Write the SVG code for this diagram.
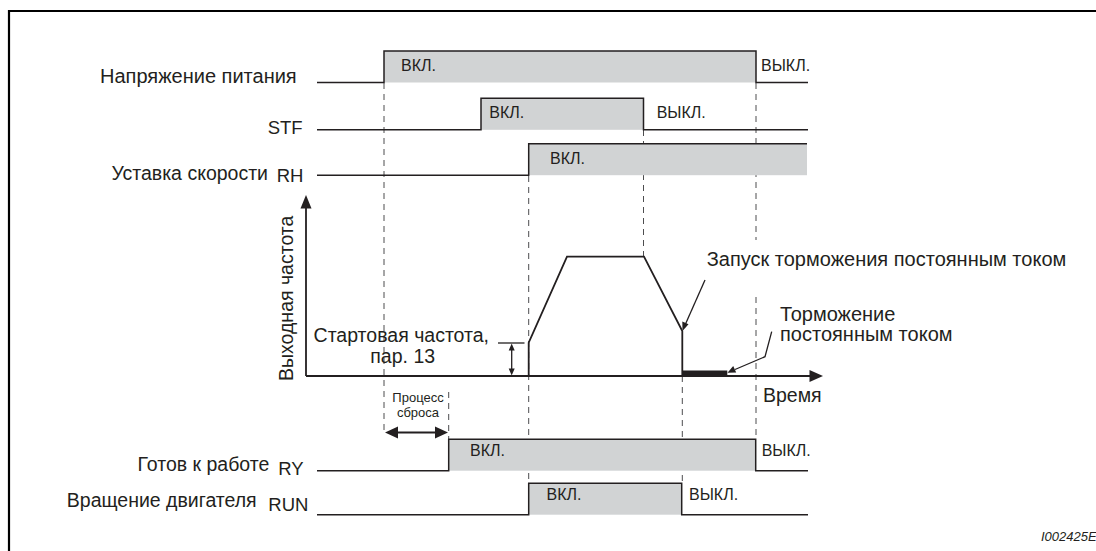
<svg xmlns="http://www.w3.org/2000/svg" width="1096" height="551" viewBox="0 0 1096 551">
<style>
  .t{font-family:"Liberation Sans",Arial,sans-serif;font-size:19.5px;fill:#231f20}
  .tl{font-family:"Liberation Sans",Arial,sans-serif;font-size:20px;fill:#231f20}
  .s{font-family:"Liberation Sans",Arial,sans-serif;font-size:18.5px;fill:#231f20}
  .st{font-family:"Liberation Sans",Arial,sans-serif;font-size:16px;fill:#231f20}
  .sm{font-family:"Liberation Sans",Arial,sans-serif;font-size:13px;fill:#231f20}
  .fill{fill:#d1d3d4;stroke:none}
  .sig{fill:none;stroke:#231f20;stroke-width:1.5}
  .dash{fill:none;stroke:#4d4d4f;stroke-width:1;stroke-dasharray:6 5}
  .ln{fill:none;stroke:#231f20;stroke-width:1.3}
  .ah{fill:#231f20;stroke:none}
</style>
<rect width="1096" height="551" fill="#fff"/>
<path d="M9,551 V11 H1096" fill="none" stroke="#000" stroke-width="2.2"/>

<g id="connectors">
  <line class="dash" x1="384" y1="83" x2="384" y2="432"/>
  <line class="dash" x1="448.7" y1="392" x2="448.7" y2="439"/>
  <line class="dash" x1="528.7" y1="176" x2="528.7" y2="483"/>
  <line class="dash" x1="643.5" y1="130" x2="643.5" y2="257"/>
  <line class="dash" x1="756" y1="83" x2="756" y2="240"/>
  <line class="dash" x1="756" y1="297" x2="756" y2="439"/>
  <line class="dash" x1="682.3" y1="376" x2="682.3" y2="483"/>
  <line class="ln" x1="705" y1="280" x2="685.5" y2="324"/>
  <polygon class="ah" points="682.5,331 682.3,321.5 688.5,324.2"/>
  <polyline class="ln" points="771.7,331.7 765,356.7 735,369.5"/>
  <polygon class="ah" points="727.5,372.7 733.2,366 736.2,372.6"/>
  <line x1="396" y1="432.5" x2="437" y2="432.5" stroke="#231f20" stroke-width="2"/>
  <polygon class="ah" points="385,432.5 398,426.5 398,438.5"/>
  <polygon class="ah" points="448,432.5 435,426.5 435,438.5"/>
  <line class="ln" x1="498" y1="343" x2="524.5" y2="343"/>
  <line class="ln" x1="511.7" y1="348" x2="511.7" y2="371"/>
  <polygon class="ah" points="511.7,343.5 508.7,350.5 514.7,350.5"/>
  <polygon class="ah" points="511.7,375.5 508.7,368.5 514.7,368.5"/>
</g>

<g id="power">
  <rect class="fill" x="384" y="51" width="372" height="31.5"/>
  <path class="sig" d="M317,82.5 H384 V51 H756 V82.5 H808"/>
  <text class="tl" x="296.7" y="83.3" text-anchor="end">Напряжение питания</text>
  <text class="st" x="401" y="70.7">ВКЛ.</text>
  <text class="st" x="761" y="70.7">ВЫКЛ.</text>
</g>

<g id="stf">
  <rect class="fill" x="481" y="98.3" width="162.5" height="31.5"/>
  <path class="sig" d="M317,129.8 H481 V98.3 H643.5 V129.8 H808"/>
  <text class="s" x="302.7" y="134" text-anchor="end">STF</text>
  <text class="st" x="489.3" y="118.3">ВКЛ.</text>
  <text class="st" x="656.7" y="118.3">ВЫКЛ.</text>
</g>

<g id="rh">
  <rect class="fill" x="528.7" y="143.7" width="278.3" height="31.5"/>
  <path class="sig" d="M317,175.2 H528.7 V143.7 H807"/>
  <text class="t" x="268" y="180" text-anchor="end">Уставка скорости</text>
  <text class="s" x="276.7" y="182">RH</text>
  <text class="st" x="550" y="164.3">ВКЛ.</text>
</g>

<g id="frequency">
  <line x1="306" y1="376" x2="306" y2="206" stroke="#231f20" stroke-width="1.8"/>
  <polygon class="ah" points="306,195 300.5,208.5 311.5,208.5"/>
  <line x1="306" y1="376" x2="811" y2="376" stroke="#231f20" stroke-width="1.8"/>
  <polygon class="ah" points="823,376 809.5,370 809.5,382"/>
  <text class="t" transform="translate(293.3,298.3) rotate(-90)" text-anchor="middle">Выходная частота</text>
  <text class="t" x="763" y="402">Время</text>
  <path d="M528.7,376 V342.7 L567,256.7 H644 L682.3,331 V376" fill="none" stroke="#231f20" stroke-width="1.8"/>
  <rect x="682.3" y="370.5" width="45" height="5.5" fill="#231f20"/>
  <text class="t" x="489" y="342" text-anchor="end">Стартовая частота,</text>
  <text class="t" x="402.7" y="363" text-anchor="middle">пар. 13</text>
  <text class="tl" x="706.7" y="265.7">Запуск торможения постоянным током</text>
  <text class="tl" x="780" y="320.7">Торможение</text>
  <text class="tl" x="780" y="341">постоянным током</text>
</g>

<g id="reset">
  <text class="sm" x="418" y="402" text-anchor="middle">Процесс</text>
  <text class="sm" x="418" y="416.5" text-anchor="middle">сброса</text>
</g>

<g id="ry">
  <rect class="fill" x="448.7" y="439.3" width="307" height="31.4"/>
  <path class="sig" d="M317,470.7 H448.7 V439.3 H755.7 V470.7 H808"/>
  <text class="t" x="269.3" y="470.7" text-anchor="end">Готов к работе</text>
  <text class="s" x="278.3" y="475">RY</text>
  <text class="st" x="470" y="455.7">ВКЛ.</text>
  <text class="st" x="761.7" y="455.7">ВЫКЛ.</text>
</g>

<g id="run">
  <rect class="fill" x="528.7" y="483.3" width="153" height="31.4"/>
  <path class="sig" d="M317,514.7 H528.7 V483.3 H681.7 V514.7 H808"/>
  <text class="t" x="256.7" y="507.3" text-anchor="end">Вращение двигателя</text>
  <text class="s" x="268.3" y="510.7">RUN</text>
  <text class="st" x="546.5" y="500">ВКЛ.</text>
  <text class="st" x="689" y="500">ВЫКЛ.</text>
</g>

<text class="sm" x="1041" y="541" font-style="italic">I002425E</text>
</svg>
